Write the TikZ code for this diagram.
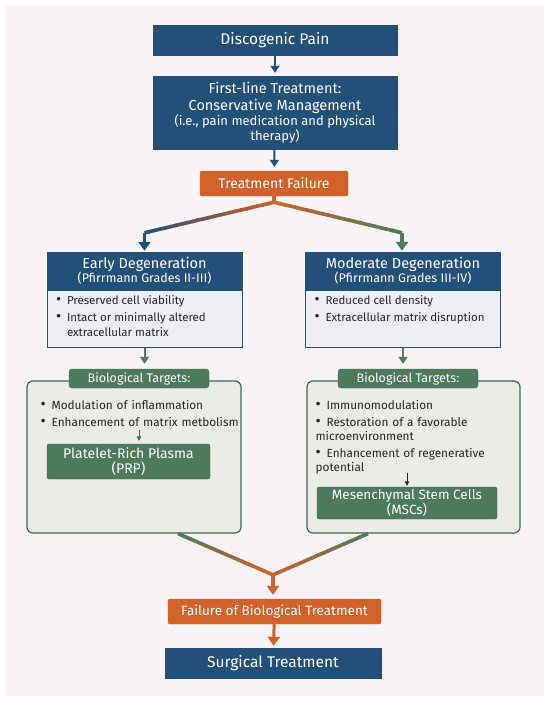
\documentclass[tikz,border=0pt]{standalone}
\usepackage{fontspec}
\setmainfont{Fira Sans}
\usepackage{xcolor}
\usetikzlibrary{arrows.meta,positioning,calc}
\definecolor{paper}{HTML}{F8F3F6}
\definecolor{navy}{HTML}{235078}
\definecolor{rust}{HTML}{D2612A}
\definecolor{moss}{HTML}{4D7A5B}
\definecolor{mossdark}{HTML}{3E6A4F}
\definecolor{bluebody}{HTML}{EEEFF4}
\definecolor{mossbody}{HTML}{EAECE6}
\definecolor{ink}{HTML}{262626}
\newcommand{\fs}[2]{\fontsize{#1}{#2}\selectfont}
\newcommand{\bul}[1]{\par\hangindent=11pt\hangafter=1\noindent
  \makebox[11pt][l]{\scalebox{1.35}{\textbullet}}#1\par}
% line from #1 to #2 fading from colour #3 to #4
\newcommand{\fadeline}[4]{%
  \foreach \k in {1,...,24}{%
    \pgfmathsetmacro{\pa}{(\k-1)/24}%
    \pgfmathsetmacro{\pb}{min(1,\k/24+0.01)}%
    \pgfmathsetmacro{\pc}{100*(\k-0.5)/24}%
    \draw[line width=3.6pt,color=#4!\pc!#3] ($(#1)!\pa!(#2)$) -- ($(#1)!\pb!(#2)$);
  }}
\tikzset{
  navybar/.style={
    draw=navy, fill=navy, text=white, align=center, inner sep=2pt
  },
  rustbar/.style={
    draw=rust, fill=rust, text=white, align=center, inner sep=2pt,
    rounded corners=2pt
  },
  stagehead/.style={
    navybar, minimum width=195pt, minimum height=38pt
  },
  stagebody/.style={
    draw=navy, line width=0.8pt, fill=bluebody, text=ink, anchor=north,
    minimum width=195pt, inner xsep=9pt, inner ysep=5pt
  },
  targetbox/.style={
    draw=mossdark, line width=1.2pt, fill=mossbody, rounded corners=6pt
  },
  targettag/.style={
    draw=mossdark, fill=moss, text=white, rounded corners=3pt,
    minimum width=140pt, minimum height=19pt, inner sep=0pt,
    font=\fs{12.5}{14}
  },
  therapy/.style={
    draw=mossdark, fill=moss, text=white, align=center, inner sep=1pt,
    rounded corners=2pt
  },
  itemlist/.style={
    anchor=north west, text=ink, inner sep=0pt, align=left,
    font=\fs{11.8}{13.5}\setlength{\parskip}{4pt}
  },
  flow/.style={line width=2pt, -{Triangle[width=9pt,length=7pt]}},
  branch/.style={line width=3.6pt, -{Triangle[width=12pt,length=9pt]}},
  tinyflow/.style={line width=0.9pt, -{Triangle[width=4.5pt,length=4.5pt]}}
}

\begin{document}
\begin{tikzpicture}[x=1pt,y=-1pt]
  \useasboundingbox[fill=white] (0,0) rectangle (550,702);
  \fill[paper] (6,6) rectangle (544,696);

  \node[navybar,minimum width=244pt,minimum height=30pt,font=\fs{15.5}{18}]
    (pain) at (275,40) {Discogenic Pain};
  \node[navybar,minimum width=244pt,minimum height=73pt,font=\fs{14.5}{16.5}]
    (first) at (275,112.5) {First-line Treatment:\\Conservative Management\\[-1pt]
    {\fs{13}{15}(i.e., pain medication and physical}\\[-2pt]{\fs{13}{15}therapy)}};
  \node[rustbar,minimum width=148pt,minimum height=25pt,font=\fs{14}{16}]
    (tfail) at (274,183.5) {Treatment Failure};

  % degeneration stages
  \node[stagehead] (earlyhead) at (144.5,271)
    {{\fs{14.5}{16}Early Degeneration}\\[-1pt]{\fs{12.5}{14}(Pfirrmann Grades II-III)}};
  \node[stagebody] (earlybody) at (earlyhead.south)
    {\parbox[t][47pt][t]{177pt}{\fs{11.5}{15}\setlength{\parskip}{2pt}%
      \bul{Preserved cell viability}\bul{Intact or minimally altered\\extracellular matrix}}};
  \node[stagehead] (modhead) at (403,271)
    {{\fs{14.5}{16}Moderate Degeneration}\\[-1pt]{\fs{12.5}{14}(Pfirrmann Grades III-IV)}};
  \node[stagebody] (modbody) at (modhead.south)
    {\parbox[t][47pt][t]{177pt}{\fs{11.5}{15}\setlength{\parskip}{2pt}%
      \bul{Reduced cell density}\bul{Extracellular matrix disruption}}};

  % biological targets
  \node[targetbox,minimum width=214pt,minimum height=152pt] (bioL) at (134,457) {};
  \node[targettag] (bioLtag) at (139,378.5) {Biological Targets:};
  \node[itemlist,text width=200pt] (bioLitems) at ($(bioL.north west)+(14,11)$)
    {\bul{Modulation of inflammation}\bul{Enhancement of matrix metbolism}};
  \node[therapy,minimum width=163pt,minimum height=35pt,font=\fs{14}{15}]
    (prp) at (128.5,461.5) {Platelet-Rich Plasma\\(PRP)};

  \node[targetbox,minimum width=213pt,minimum height=152pt] (bioR) at (413.5,457) {};
  \node[targettag] (bioRtag) at (408,378.5) {Biological Targets:};
  \node[itemlist,text width=200pt] (bioRitems) at ($(bioR.north west)+(9,11)$)
    {\bul{Immunomodulation}\bul{Restoration of a favorable\\microenvironment}%
     \bul{Enhancement of regenerative\\potential}};
  \node[therapy,minimum width=180pt,minimum height=32pt,font=\fs{13.5}{14}]
    (msc) at (407,503) {Mesenchymal Stem Cells\\(MSCs)};

  \node[rustbar,minimum width=213pt,minimum height=25pt,font=\fs{13.5}{16}]
    (failbio) at (274.5,611.5) {Failure of Biological Treatment};
  \node[navybar,minimum width=216pt,minimum height=30pt,font=\fs{15.5}{18}]
    (surgery) at (273,663) {Surgical Treatment};

  % connectors
  \draw[flow,navy,shorten >=3pt] (pain) -- (first);
  \draw[flow,navy,shorten >=4pt] (first) -- (tfail);

  \coordinate (split) at ($(tfail.south)+(0,6)$);
  \coordinate (lcorner) at ($(earlyhead.north)+(0,-19)$);
  \coordinate (rcorner) at ($(modhead.north)+(-1,-19)$);
  \draw[line width=3.6pt,rust] (tfail.south) -- (split);
  \fadeline{split}{lcorner}{rust}{navy}
  \fadeline{split}{rcorner}{rust}{moss}
  \draw[branch,navy,shorten >=1pt] (lcorner) -- (earlyhead.north);
  \draw[branch,moss,shorten >=1pt] (rcorner) -- (rcorner |- modhead.north);

  \draw[flow,moss,shorten >=5pt] (earlybody.south) -- (earlybody.south |- bioLtag.north);
  \draw[flow,moss,shorten >=5pt] (modbody.south) -- (modbody.south |- bioRtag.north);
  \draw[tinyflow,mossdark,shorten <=3pt,shorten >=3pt]
    (bioLitems.south -| bioLtag.south) -- (prp.north -| bioLtag.south);
  \draw[tinyflow,ink,shorten <=-1pt,shorten >=1pt] (bioRitems.south -| msc.north) -- (msc.north);

  \coordinate (lfoot) at ($(bioL.south)+(44,0)$);
  \coordinate (rfoot) at ($(bioR.south)+(-45.5,0)$);
  \coordinate (merge) at ($(failbio.north)+(-1.5,-24)$);
  \fadeline{lfoot}{merge}{moss}{rust}
  \fadeline{rfoot}{merge}{moss}{rust}
  \draw[branch,rust,shorten >=4pt] (merge) -- (merge |- failbio.north);
  \draw[branch,rust,line width=3pt,shorten >=2pt] (failbio) -- (surgery);
\end{tikzpicture}
\end{document}
